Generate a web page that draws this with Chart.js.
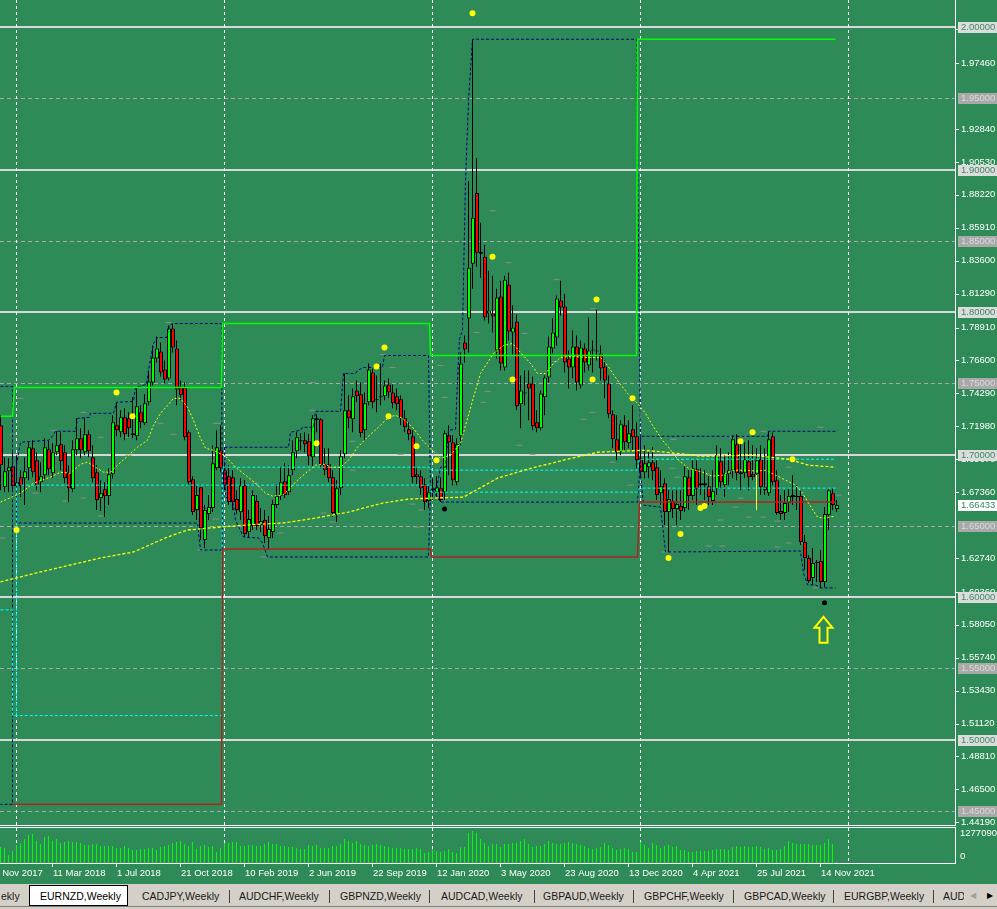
<!DOCTYPE html>
<html lang="en">
<head>
    <meta charset="UTF-8">
    <title>EURNZD,Weekly</title>
    <style>
        body {
            margin: 0;
            background-color: #2E8B57;
            font-family: 'Liberation Sans', Arial, sans-serif;
        }
        .wrap {
            position: relative;
            width: 997px;
            height: 909px;
            overflow: hidden;
            background-color: #2E8B57;
        }
        .wrap canvas {
            position: absolute;
            left: 0;
        }
        .tabs {
            position: absolute;
            left: 0;
            top: 884px;
            width: 997px;
            height: 25px;
            background-color: #d4d0c8;
            font-size: 10.5px;
            color: #1a1a1a;
            overflow: hidden;
        }
        .tabs span {
            position: absolute;
            top: 6px;
            white-space: nowrap;
        }
        .tabs .sep {
            position: absolute;
            top: 6px;
            width: 1px;
            height: 13px;
            background-color: #404040;
        }
        .tabs .active {
            position: absolute;
            left: 29px;
            top: 1px;
            width: 97px;
            height: 19px;
            background-color: #fff;
            border: 1px solid #000;
        }
        .tabs .bottom {
            position: absolute;
            left: 0;
            top: 22px;
            width: 997px;
            height: 1px;
            background-color: #808080;
        }
    </style>
    <script src="https://cdn.jsdelivr.net/npm/chart.js"></script>
</head>
<body>
<div class="wrap">
    <canvas id="mainChart" width="997" height="826" style="top:0"></canvas>
    <canvas id="volChart" width="997" height="58" style="top:826px"></canvas>
    <div class="tabs">
        <div class="active"></div>
        <span style="left:1px">ekly</span>
        <span style="left:40px;color:#000">EURNZD,Weekly</span>
        <span style="left:142px">CADJPY,Weekly</span>
        <div class="sep" style="left:229px"></div>
        <span style="left:239px">AUDCHF,Weekly</span>
        <div class="sep" style="left:329px"></div>
        <span style="left:340px">GBPNZD,Weekly</span>
        <div class="sep" style="left:429px"></div>
        <span style="left:441px">AUDCAD,Weekly</span>
        <div class="sep" style="left:534px"></div>
        <span style="left:543px">GBPAUD,Weekly</span>
        <div class="sep" style="left:633px"></div>
        <span style="left:644px">GBPCHF,Weekly</span>
        <div class="sep" style="left:733px"></div>
        <span style="left:744px">GBPCAD,Weekly</span>
        <div class="sep" style="left:833px"></div>
        <span style="left:844px">EURGBP,Weekly</span>
        <div class="sep" style="left:933px"></div>
        <span style="left:943px;width:21px;overflow:hidden">AUDCAD</span>
        <span style="left:970px;color:#a0a0a0;font-size:8px;top:7px">&#9664;</span>
        <span style="left:987px;color:#000;font-size:8px;top:7px">&#9654;</span>
        <div class="bottom"></div>
    </div>
</div>

<script>
    // weekly candles, Dec 2017 .. Dec 2021
    const open = [
        1.7205, 1.6771, 1.6883, 1.6918, 1.6778, 1.6841, 1.6834, 1.6904, 1.7044, 1.6960,
        1.6806, 1.6855, 1.7037, 1.6869, 1.7016, 1.7072, 1.7016, 1.6876, 1.6757, 1.7030,
        1.7114, 1.7016, 1.7142, 1.6981, 1.6876, 1.6694, 1.6757, 1.6708, 1.6862, 1.7205,
        1.7156, 1.7261, 1.7254, 1.7135, 1.7128, 1.7296, 1.7219, 1.7366, 1.7506, 1.7674,
        1.7723, 1.7597, 1.7534, 1.7884, 1.7744, 1.7471, 1.7471, 1.7156, 1.6827, 1.6610,
        1.6771, 1.6400, 1.6582, 1.6624, 1.6904, 1.7030, 1.6890, 1.6848, 1.6841, 1.6687,
        1.6596, 1.6785, 1.6456, 1.6498, 1.6673, 1.6505, 1.6540, 1.6414, 1.6456, 1.6645,
        1.6708, 1.6813, 1.6736, 1.6890, 1.7023, 1.7093, 1.7100, 1.7093, 1.6981, 1.7254,
        1.7247, 1.6932, 1.6932, 1.6841, 1.6575, 1.6764, 1.7002, 1.7310, 1.7247, 1.7450,
        1.7422, 1.7170, 1.7366, 1.7576, 1.7380, 1.7401, 1.7408, 1.7492, 1.7436, 1.7408,
        1.7387, 1.7254, 1.7177, 1.7128, 1.6862, 1.6848, 1.6792, 1.6673, 1.6750, 1.6736,
        1.6764, 1.6736, 1.7135, 1.7086, 1.6806, 1.7128, 1.7786, 1.7954, 1.8339, 1.8836,
        1.8409, 1.8388, 1.7989, 1.7989, 1.7730, 1.8108, 1.7611, 1.8192, 1.7856, 1.7933,
        1.7352, 1.7429, 1.7499, 1.7499, 1.7226, 1.7184, 1.7401, 1.7541, 1.7744, 1.7821,
        1.8080, 1.8038, 1.7674, 1.7611, 1.7758, 1.7485, 1.7744, 1.7625, 1.7730, 1.7730,
        1.7709, 1.7618, 1.7499, 1.7282, 1.7107, 1.7016, 1.7205, 1.7079, 1.7177, 1.7128,
        1.6974, 1.6876, 1.6911, 1.6946, 1.6911, 1.6729, 1.6799, 1.6596, 1.6673, 1.6617,
        1.6638, 1.6624, 1.6841, 1.6708, 1.6897, 1.6799, 1.6785, 1.6778, 1.6673, 1.6757,
        1.6953, 1.6785, 1.6862, 1.6890, 1.7072, 1.6876, 1.6869, 1.6953, 1.6862, 1.6862,
        1.6967, 1.6771, 1.6729, 1.7128, 1.6820, 1.6603, 1.6589, 1.6659, 1.6715, 1.6701,
        1.6708, 1.6386, 1.6274, 1.6134, 1.6239, 1.6253, 1.6106, 1.6575, 1.6729, 1.6617
    ];
    const high = [
        1.7275, 1.6981, 1.6974, 1.7016, 1.6995, 1.6890, 1.6981, 1.7086, 1.7100, 1.7016,
        1.6946, 1.7114, 1.7100, 1.7079, 1.7163, 1.7156, 1.7065, 1.6925, 1.7100, 1.7254,
        1.7184, 1.7254, 1.7170, 1.7065, 1.6925, 1.6820, 1.6806, 1.6904, 1.7275, 1.7366,
        1.7310, 1.7324, 1.7296, 1.7401, 1.7471, 1.7345, 1.7422, 1.7590, 1.7765, 1.7828,
        1.7786, 1.7660, 1.7905, 1.7919, 1.7800, 1.7520, 1.7506, 1.7170, 1.6848, 1.6785,
        1.6771, 1.6645, 1.6715, 1.7065, 1.7170, 1.7205, 1.6946, 1.6925, 1.6890, 1.6750,
        1.6834, 1.6820, 1.6610, 1.6750, 1.6715, 1.6624, 1.6610, 1.6568, 1.6680, 1.6792,
        1.6911, 1.6939, 1.6925, 1.7100, 1.7156, 1.7149, 1.7156, 1.7142, 1.7275, 1.7282,
        1.7254, 1.7044, 1.7044, 1.6890, 1.6820, 1.7030, 1.7569, 1.7415, 1.7464, 1.7520,
        1.7506, 1.7436, 1.7639, 1.7604, 1.7555, 1.7639, 1.7520, 1.7534, 1.7492, 1.7464,
        1.7415, 1.7310, 1.7226, 1.7170, 1.6904, 1.6890, 1.6834, 1.6785, 1.6834, 1.6848,
        1.6841, 1.7170, 1.7205, 1.7135, 1.7114, 1.7716, 1.7835, 1.8920, 1.9914, 1.9081,
        1.8626, 1.8472, 1.8290, 1.8255, 1.8164, 1.8220, 1.8255, 1.8276, 1.8045, 1.7982,
        1.7555, 1.7590, 1.7590, 1.7548, 1.7310, 1.7450, 1.7555, 1.7828, 1.7954, 1.8115,
        1.8220, 1.8129, 1.7730, 1.7870, 1.7835, 1.7800, 1.7779, 1.7961, 1.7800, 1.8017,
        1.7765, 1.7660, 1.7555, 1.7310, 1.7275, 1.7240, 1.7275, 1.7240, 1.7345, 1.7226,
        1.7100, 1.7065, 1.7016, 1.7051, 1.6960, 1.6890, 1.6834, 1.6750, 1.6750, 1.6750,
        1.6750, 1.6918, 1.6890, 1.6960, 1.6960, 1.6904, 1.6890, 1.6848, 1.6890, 1.7065,
        1.7044, 1.6995, 1.7016, 1.7135, 1.7142, 1.7100, 1.7086, 1.7100, 1.7065, 1.7044,
        1.7065, 1.7044, 1.7163, 1.7156, 1.6890, 1.6715, 1.6750, 1.6764, 1.6855, 1.6785,
        1.6750, 1.6435, 1.6295, 1.6344, 1.6260, 1.6330, 1.6631, 1.6764, 1.6764, 1.6680
    ];
    const low = [
        1.6750, 1.6736, 1.6736, 1.6750, 1.6750, 1.6701, 1.6645, 1.6820, 1.6841, 1.6750,
        1.6736, 1.6820, 1.6855, 1.6834, 1.6995, 1.6890, 1.6799, 1.6666, 1.6736, 1.6995,
        1.6974, 1.6995, 1.6981, 1.6806, 1.6610, 1.6603, 1.6561, 1.6645, 1.6834, 1.7128,
        1.7121, 1.7100, 1.7121, 1.7114, 1.7100, 1.7184, 1.7205, 1.7345, 1.7485, 1.7646,
        1.7548, 1.7499, 1.7520, 1.7716, 1.7345, 1.7380, 1.7100, 1.6785, 1.6575, 1.6540,
        1.6400, 1.6344, 1.6540, 1.6596, 1.6890, 1.6876, 1.6750, 1.6645, 1.6610, 1.6582,
        1.6540, 1.6421, 1.6414, 1.6470, 1.6470, 1.6456, 1.6379, 1.6330, 1.6414, 1.6624,
        1.6680, 1.6694, 1.6715, 1.6855, 1.6974, 1.7030, 1.7016, 1.6925, 1.6918, 1.7156,
        1.6911, 1.6855, 1.6806, 1.6561, 1.6526, 1.6715, 1.6974, 1.7184, 1.7156, 1.7366,
        1.7121, 1.7100, 1.7345, 1.7324, 1.7296, 1.7345, 1.7380, 1.7394, 1.7324, 1.7310,
        1.7205, 1.7156, 1.7100, 1.6799, 1.6792, 1.6715, 1.6610, 1.6624, 1.6680, 1.6701,
        1.6666, 1.6680, 1.6855, 1.6785, 1.6785, 1.7065, 1.7646, 1.7716, 1.8164, 1.8318,
        1.8241, 1.7940, 1.7919, 1.7856, 1.7674, 1.7590, 1.7590, 1.7800, 1.7695, 1.7310,
        1.7184, 1.7345, 1.7240, 1.7170, 1.7156, 1.7170, 1.7275, 1.7506, 1.7709, 1.7765,
        1.7975, 1.7576, 1.7464, 1.7534, 1.7450, 1.7464, 1.7576, 1.7590, 1.7576, 1.7660,
        1.7520, 1.7394, 1.7254, 1.7044, 1.6960, 1.6995, 1.7030, 1.7044, 1.7030, 1.6904,
        1.6834, 1.6834, 1.6834, 1.6820, 1.6680, 1.6645, 1.6505, 1.6316, 1.6554, 1.6505,
        1.6540, 1.6596, 1.6610, 1.6680, 1.6645, 1.6715, 1.6680, 1.6645, 1.6645, 1.6715,
        1.6764, 1.6701, 1.6785, 1.6834, 1.6820, 1.6750, 1.6834, 1.6750, 1.6820, 1.6820,
        1.6715, 1.6715, 1.6708, 1.6785, 1.6575, 1.6540, 1.6540, 1.6596, 1.6645, 1.6610,
        1.6365, 1.6190, 1.6099, 1.6085, 1.6106, 1.6064, 1.6071, 1.6470, 1.6610, 1.6596
    ];
    const close = [
        1.6925, 1.6883, 1.6911, 1.6778, 1.6806, 1.6778, 1.6883, 1.7051, 1.6876, 1.6785,
        1.6848, 1.7051, 1.6897, 1.7016, 1.7065, 1.6953, 1.6834, 1.6764, 1.7037, 1.7114,
        1.7030, 1.7142, 1.7023, 1.6834, 1.6680, 1.6729, 1.6708, 1.6862, 1.7226, 1.7170,
        1.7261, 1.7142, 1.7184, 1.7149, 1.7338, 1.7226, 1.7359, 1.7513, 1.7681, 1.7744,
        1.7576, 1.7527, 1.7884, 1.7751, 1.7457, 1.7415, 1.7121, 1.6806, 1.6596, 1.6715,
        1.6484, 1.6610, 1.6631, 1.6939, 1.7051, 1.6904, 1.6778, 1.6666, 1.6666, 1.6610,
        1.6785, 1.6442, 1.6547, 1.6715, 1.6498, 1.6533, 1.6428, 1.6477, 1.6652, 1.6708,
        1.6806, 1.6715, 1.6855, 1.7016, 1.7121, 1.7100, 1.7072, 1.6988, 1.7254, 1.7240,
        1.6925, 1.6890, 1.6834, 1.6589, 1.6764, 1.6988, 1.7310, 1.7254, 1.7408, 1.7408,
        1.7149, 1.7359, 1.7597, 1.7366, 1.7387, 1.7408, 1.7485, 1.7436, 1.7359, 1.7352,
        1.7254, 1.7191, 1.7142, 1.6841, 1.6841, 1.6764, 1.6666, 1.6736, 1.6764, 1.6771,
        1.6680, 1.7149, 1.7086, 1.6820, 1.7072, 1.7639, 1.7737, 1.8311, 1.8661, 1.8416,
        1.8423, 1.7961, 1.8010, 1.7968, 1.8101, 1.7639, 1.8227, 1.7863, 1.7891, 1.7338,
        1.7450, 1.7436, 1.7464, 1.7198, 1.7184, 1.7429, 1.7541, 1.7758, 1.7856, 1.8094,
        1.8031, 1.7646, 1.7611, 1.7758, 1.7506, 1.7751, 1.7646, 1.7730, 1.7737, 1.7723,
        1.7604, 1.7520, 1.7282, 1.7107, 1.7016, 1.7212, 1.7086, 1.7149, 1.7121, 1.6960,
        1.6876, 1.6939, 1.6946, 1.6883, 1.6715, 1.6778, 1.6596, 1.6687, 1.6617, 1.6652,
        1.6603, 1.6848, 1.6708, 1.6904, 1.6757, 1.6785, 1.6799, 1.6701, 1.6743, 1.6995,
        1.6806, 1.6869, 1.6890, 1.7107, 1.6869, 1.6862, 1.6967, 1.6841, 1.6841, 1.6960,
        1.6771, 1.6750, 1.7107, 1.6806, 1.6589, 1.6582, 1.6659, 1.6708, 1.6701, 1.6708,
        1.6386, 1.6274, 1.6113, 1.6239, 1.6246, 1.6106, 1.6582, 1.6750, 1.6645, 1.6645
    ];
    const volume = [
        640000, 600000, 320000, 480000, 720000, 800000, 960000, 1120000, 1160000, 880000,
        760000, 1040000, 1080000, 880000, 960000, 800000, 840000, 880000, 840000, 840000,
        800000, 720000, 720000, 760000, 760000, 680000, 680000, 680000, 680000, 600000,
        600000, 680000, 600000, 520000, 520000, 560000, 560000, 600000, 600000, 520000,
        640000, 680000, 720000, 800000, 840000, 880000, 760000, 680000, 840000, 560000,
        680000, 720000, 640000, 680000, 440000, 600000, 800000, 800000, 840000, 840000,
        680000, 680000, 720000, 720000, 680000, 680000, 760000, 840000, 760000, 760000,
        680000, 680000, 640000, 640000, 600000, 560000, 560000, 720000, 680000, 720000,
        600000, 600000, 600000, 680000, 680000, 760000, 960000, 880000, 800000, 880000,
        760000, 720000, 680000, 720000, 760000, 720000, 680000, 640000, 600000, 600000,
        600000, 560000, 560000, 560000, 600000, 560000, 400000, 440000, 560000, 480000,
        440000, 480000, 560000, 440000, 400000, 640000, 640000, 1200000, 1277090, 1200000,
        960000, 800000, 680000, 760000, 760000, 640000, 760000, 760000, 800000, 800000,
        880000, 960000, 760000, 640000, 680000, 680000, 760000, 880000, 800000, 760000,
        760000, 800000, 840000, 800000, 760000, 720000, 680000, 600000, 560000, 600000,
        640000, 800000, 720000, 600000, 520000, 560000, 600000, 560000, 440000, 440000,
        840000, 720000, 600000, 800000, 720000, 600000, 680000, 720000, 640000, 680000,
        520000, 520000, 440000, 440000, 480000, 480000, 480000, 480000, 520000, 560000,
        560000, 560000, 520000, 640000, 680000, 640000, 680000, 640000, 640000, 680000,
        640000, 560000, 600000, 520000, 520000, 560000, 680000, 880000, 800000, 760000,
        760000, 760000, 760000, 720000, 720000, 720000, 800000, 960000, 760000, 40000
    ];
    const lastPrice = 1.66433;
    const volumeTop = 1277090;

    // indicator lines: [week index, price]
    const fastMA = [
        [0, 1.6666], [5, 1.6729], [8.25, 1.6799], [12.5, 1.6841], [15, 1.6876], [17.5, 1.6869],
        [20, 1.6932], [21.75, 1.6946], [23.75, 1.6911], [25.75, 1.6876], [27.5, 1.6876], [29.25, 1.6925],
        [31.75, 1.6988], [34.25, 1.7051], [36.75, 1.7100], [38.25, 1.7205], [40, 1.7289], [41.75, 1.7345],
        [43.25, 1.7394], [45, 1.7394], [46.75, 1.7331], [48.25, 1.7240], [50, 1.7114], [51.25, 1.7044],
        [53.25, 1.7030], [56.25, 1.6988], [58.75, 1.6911], [61.25, 1.6855], [63.75, 1.6799], [66.25, 1.6729],
        [68, 1.6708], [70.5, 1.6715], [72, 1.6750], [73.75, 1.6806], [76.25, 1.6869], [78.75, 1.6925],
        [81.25, 1.6932], [82.5, 1.6911], [85, 1.6911], [87, 1.6960], [89.25, 1.7051], [92, 1.7128],
        [94.5, 1.7191], [97, 1.7261], [98.75, 1.7275], [100.5, 1.7254], [103, 1.7191], [105.5, 1.7100],
        [108, 1.7030], [110, 1.6974], [112.5, 1.6995], [115, 1.7079], [118.25, 1.7401], [120, 1.7569],
        [123.25, 1.7709], [125.75, 1.7765], [128, 1.7779], [130, 1.7716], [132.5, 1.7639], [134.25, 1.7569],
        [136.25, 1.7569], [138.25, 1.7639], [140, 1.7681], [142.5, 1.7688], [146.75, 1.7681], [150, 1.7681],
        [151.75, 1.7625], [154.25, 1.7520], [156.75, 1.7429], [159.25, 1.7359], [161.25, 1.7289], [163, 1.7205],
        [165.5, 1.7100], [167, 1.7051], [169.5, 1.6960], [172, 1.6904], [175.5, 1.6876], [178, 1.6848],
        [180.5, 1.6855], [183, 1.6890], [186.25, 1.6890], [188.75, 1.6883], [191.25, 1.6890], [193.75, 1.6855],
        [196.25, 1.6820], [198.75, 1.6785], [200.5, 1.6729], [202, 1.6659], [204.25, 1.6561], [205.75, 1.6554],
        [208.75, 1.6568]
    ];
    const slowMA = [
        [0, 1.6106], [10, 1.6176], [13.25, 1.6197], [25, 1.6274], [33.25, 1.6316], [41.75, 1.6421],
        [46.75, 1.6470], [55, 1.6491], [61.25, 1.6505], [70.5, 1.6519], [78.75, 1.6554], [87, 1.6596],
        [95.5, 1.6659], [102, 1.6687], [108, 1.6694], [115.75, 1.6701], [124.25, 1.6834], [131.75, 1.6897],
        [140.75, 1.6960], [149.25, 1.7016], [160.75, 1.7030], [166.25, 1.7016], [171.25, 1.7002], [175, 1.6988],
        [187.5, 1.6995], [197, 1.6967], [202, 1.6925], [208.75, 1.6911]
    ];
    const yellowMark = [[189, 1.6855], [189, 1.6610]];
    const prevHigh = [
        [0, 1.7268], [3, 1.7268], [3.5, 1.7471], [55.25, 1.7471], [55.5, 1.7919], [107.25, 1.7919],
        [107.5, 1.7695], [159, 1.7695], [159.25, 1.9914], [208.75, 1.9914]
    ];
    const prevLow = [
        [3, 1.4545], [55.25, 1.4545], [55.5, 1.6337], [107.5, 1.6337], [107.75, 1.6281], [159.25, 1.6281],
        [159.75, 1.6666], [208.75, 1.6666]
    ];
    const pivotA = [
        [0, 1.5910], [3, 1.5910], [3, 1.5168], [55.25, 1.5168], [55.5, 1.6911], [107.5, 1.6911],
        [107.75, 1.6890], [159.25, 1.6890], [159.75, 1.6967], [208.75, 1.6967]
    ];
    const pivotB = [
        [4, 1.5168], [4, 1.6785], [107.5, 1.6785], [107.75, 1.6736], [159.25, 1.6736], [159.75, 1.6764],
        [208.75, 1.6764]
    ];
    const rangeLines = [
        [[0, 1.7478], [3, 1.7478], [3, 1.4545], [0, 1.4545]],
        [[4, 1.6925], [4, 1.6519], [49.25, 1.6519], [50, 1.6330], [55.5, 1.6330]],
        [[4, 1.6925], [5, 1.7086], [12, 1.7100], [13, 1.7128], [13.75, 1.7163], [18.75, 1.7163],
         [19.25, 1.7254], [22.25, 1.7261], [22.5, 1.7289], [28.25, 1.7289], [29, 1.7366], [33.25, 1.7373],
         [33.75, 1.7471], [36.5, 1.7492], [37, 1.7590], [38.25, 1.7779], [39.25, 1.7821], [41.5, 1.7821],
         [42.25, 1.7905], [43, 1.7919], [55.25, 1.7919], [55.5, 1.6330]],
        [[56, 1.7051], [72, 1.7051], [72.5, 1.7156], [75, 1.7170], [75.5, 1.7191], [78.25, 1.7191],
         [78.75, 1.7303], [85, 1.7303], [85.75, 1.7569], [88.75, 1.7569], [89.25, 1.7590], [90.75, 1.7611],
         [95.5, 1.7611], [96, 1.7695], [107, 1.7695], [107.5, 1.6750]],
        [[56, 1.7051], [56.25, 1.6701], [58, 1.6680], [58.75, 1.6540], [60.75, 1.6421], [64.5, 1.6414],
         [65.5, 1.6379], [66.75, 1.6281], [107, 1.6281], [107.5, 1.6750]],
        [[108, 1.6750], [109, 1.6757], [110, 1.6911], [111.25, 1.6911], [112, 1.7170], [113.75, 1.7177],
         [114.25, 1.7520], [114.75, 1.7814], [115.5, 1.7870], [116.25, 1.8920], [117, 1.9480], [118, 1.9914],
         [159, 1.9914], [160, 1.7030]],
        [[108, 1.6750], [110, 1.6666], [159.25, 1.6666], [160, 1.6960]],
        [[160, 1.7030], [160, 1.7128], [191.75, 1.7128], [192, 1.7163], [208.75, 1.7163]],
        [[160, 1.6960], [160, 1.6869], [160.75, 1.6645], [165, 1.6631], [166.25, 1.6316], [200, 1.6323],
         [200.75, 1.6169], [201.75, 1.6085], [203.75, 1.6085], [205, 1.6064], [208.75, 1.6064]]
    ];
    const yellowDots = [
        [118, 2.0096], [123, 1.8388], [149, 1.8087], [128, 1.7527], [148, 1.7527], [158, 1.7394],
        [96, 1.7751], [94, 1.7618], [79, 1.7079], [97, 1.7268], [104, 1.7058], [109, 1.6960],
        [29, 1.7436], [33, 1.7268], [4, 1.6470], [188, 1.7156], [185, 1.7093], [198, 1.6967],
        [175, 1.6624], [176, 1.6638], [170, 1.6442], [167, 1.6274]
    ];
    const blackDots = [[111, 1.6617], [206, 1.5959]];
    const grayMarks = [
        [5, 1.7394], [3, 1.7142], [13.25, 1.7170], [20.75, 1.7296], [25, 1.7121], [8.75, 1.6729],
        [16.25, 1.6673], [20.75, 1.6694], [25, 1.6568], [32, 1.6995], [31.75, 1.7121], [42, 1.7926],
        [43.25, 1.7142], [40, 1.7219], [53.75, 1.7219], [53.75, 1.6547], [50, 1.6330], [0.5, 1.6414],
        [78, 1.7506], [78, 1.7310], [88, 1.7093], [88, 1.6890], [95.5, 1.7702], [98, 1.7611],
        [100, 1.7002], [103, 1.6652], [105, 1.6610], [104.25, 1.6491], [80.75, 1.6589], [83, 1.6526],
        [63.75, 1.6799], [70, 1.6449], [65.75, 1.6281], [54.5, 1.7219], [123, 1.8710], [127, 1.8346],
        [119, 1.7856], [111, 1.7401], [110, 1.7625], [121.75, 1.7443], [120.75, 1.7366], [131, 1.7849],
        [129.75, 1.7065], [133, 1.7002], [139, 1.8227], [148.25, 1.8024], [138.75, 1.7653], [145.75, 1.7247],
        [148, 1.7296], [153, 1.6946], [157.5, 1.6785], [190.75, 1.7163], [205, 1.7191], [182, 1.7128],
        [185.75, 1.7128], [168.25, 1.7107], [168, 1.6904], [169.25, 1.6841], [197, 1.6911], [209.5, 1.6715],
        [183.75, 1.6631], [187, 1.6561], [190.75, 1.6561], [194.25, 1.6533], [180, 1.6540], [177, 1.6358],
        [180.5, 1.6358], [194.25, 1.6351], [197, 1.6379], [200.75, 1.6379], [185, 1.6694], [203.75, 1.6064],
        [166, 1.6316], [168.25, 1.6316]
    ];
    const arrowMark = { x: 205.75, top: 1.5861, bottom: 1.5679 };

    // axis text
    const yTickLabels = ['1.99840', '1.97460', '1.92840', '1.90530', '1.88220', '1.85910', '1.83600', '1.81290',
        '1.78910', '1.76600', '1.74290', '1.71980', '1.69670', '1.67360', '1.62740', '1.60360', '1.58050',
        '1.55740', '1.53430', '1.51120', '1.48810', '1.46500', '1.44190'];
    const solidLevels = [2.0, 1.9, 1.8, 1.7, 1.6, 1.5];
    const dashedLevels = [1.95, 1.85, 1.75, 1.65, 1.55, 1.45];
    const separators = [4, 56, 108, 160, 212];
    const dateLabels = ['19 Nov 2017', '11 Mar 2018', '1 Jul 2018', '21 Oct 2018', '10 Feb 2019', '2 Jun 2019',
        '22 Sep 2019', '12 Jan 2020', '3 May 2020', '23 Aug 2020', '13 Dec 2020', '4 Apr 2021', '25 Jul 2021',
        '14 Nov 2021'];
    const dateIdx = [-3, 13, 29, 45, 61, 77, 93, 109, 125, 141, 157, 173, 189, 205];

    const GREEN_BG = '#2E8B57';
    const AXIS_FONT = '9.5px "Liberation Sans", Arial, sans-serif';
    const X_MIN = -0.125, X_MAX = 238.625;
    const BODY_SHIFT = 0.125; // 4px bodies sit one pixel right of the wick centre

    const pts = arr => arr.map(p => ({ x: p[0], y: p[1] }));

    function lineSet(points, color, width, dash, order) {
        return {
            type: 'line', data: pts(points), borderColor: color, borderWidth: width,
            borderDash: dash, pointRadius: 0, fill: false, tension: 0, order: order
        };
    }

    // grid, axis labels and price boxes
    const mainDecor = {
        id: 'mainDecor',
        beforeDatasetsDraw(chart) {
            const { ctx, chartArea: a, scales: { x, y } } = chart;
            ctx.save();
            ctx.fillStyle = '#d8d8d8';
            solidLevels.forEach(v => {
                const py = Math.round(y.getPixelForValue(v));
                ctx.fillRect(a.left, py - 1, a.right - a.left, 2);
            });
            ctx.strokeStyle = '#a9a9a9';
            ctx.lineWidth = 1;
            ctx.setLineDash([4, 3]);
            dashedLevels.forEach(v => {
                const py = Math.round(y.getPixelForValue(v)) + 0.5;
                ctx.beginPath();
                ctx.moveTo(a.left, py);
                ctx.lineTo(a.right, py);
                ctx.stroke();
            });
            ctx.strokeStyle = '#ffffff';
            ctx.setLineDash([3, 3]);
            separators.forEach(i => {
                const px = Math.floor(x.getPixelForValue(i)) + 0.5;
                ctx.beginPath();
                ctx.moveTo(px, a.top);
                ctx.lineTo(px, a.bottom);
                ctx.stroke();
            });
            ctx.restore();
        },
        afterDraw(chart) {
            const { ctx, chartArea: a, scales: { x, y } } = chart;
            ctx.save();
            // arrow
            const ax = x.getPixelForValue(arrowMark.x);
            const at = y.getPixelForValue(arrowMark.top);
            const ab = y.getPixelForValue(arrowMark.bottom);
            ctx.strokeStyle = '#FFFF00';
            ctx.lineWidth = 2;
            ctx.beginPath();
            ctx.moveTo(ax, at);
            ctx.lineTo(ax + 9, at + 11);
            ctx.lineTo(ax + 4, at + 11);
            ctx.lineTo(ax + 4, ab);
            ctx.lineTo(ax - 4, ab);
            ctx.lineTo(ax - 4, at + 11);
            ctx.lineTo(ax - 9, at + 11);
            ctx.closePath();
            ctx.stroke();

            // frame
            ctx.fillStyle = '#ffffff';
            ctx.fillRect(a.right, 0, 1, a.bottom + 1);
            ctx.fillRect(0, a.bottom, a.right + 1, 1);

            ctx.font = AXIS_FONT;
            ctx.textBaseline = 'middle';
            ctx.textAlign = 'left';
            yTickLabels.forEach(t => {
                const py = y.getPixelForValue(parseFloat(t));
                ctx.fillStyle = '#ffffff';
                ctx.fillRect(a.right + 1, Math.round(py), 3, 1);
                ctx.fillText(t, a.right + 6, py);
            });
            const box = (v, bg, fg) => {
                const py = y.getPixelForValue(v);
                ctx.fillStyle = bg;
                ctx.fillRect(a.right + 3, Math.round(py) - 5, 42, 11);
                ctx.fillStyle = fg;
                ctx.fillText(v.toFixed(5), a.right + 6, py + 0.5);
            };
            dashedLevels.forEach(v => box(v, '#a9a9a9', '#d9d9d9'));
            solidLevels.forEach(v => box(v, '#dcdcdc', '#3d8a62'));
            box(lastPrice, '#ffffff', GREEN_BG);
            ctx.restore();
        }
    };

    const volDecor = {
        id: 'volDecor',
        beforeDatasetsDraw(chart) {
            const { ctx, chartArea: a, scales: { x } } = chart;
            ctx.save();
            ctx.strokeStyle = '#ffffff';
            ctx.lineWidth = 1;
            ctx.setLineDash([3, 3]);
            separators.forEach(i => {
                const px = Math.floor(x.getPixelForValue(i)) + 0.5;
                ctx.beginPath();
                ctx.moveTo(px, a.top);
                ctx.lineTo(px, a.bottom);
                ctx.stroke();
            });
            ctx.restore();
        },
        afterDraw(chart) {
            const { ctx, chartArea: a, scales: { x } } = chart;
            ctx.save();
            ctx.fillStyle = '#ffffff';
            ctx.fillRect(0, a.top - 1, a.right + 1, 1);
            ctx.fillRect(0, a.bottom, a.right + 1, 1);
            ctx.fillRect(a.right, a.top - 1, 1, a.bottom - a.top + 2);
            ctx.font = AXIS_FONT;
            ctx.textBaseline = 'middle';
            ctx.textAlign = 'left';
            ctx.fillText(String(volumeTop), a.right + 5, a.top + 5);
            ctx.fillText('0', a.right + 5, a.bottom - 7);
            dateIdx.forEach((d, k) => {
                const px = Math.floor(x.getPixelForValue(d));
                ctx.fillRect(px, a.bottom, 1, 4);
                ctx.fillText(dateLabels[k], px + 1, a.bottom + 10);
            });
            ctx.restore();
        }
    };

    const bodies = open.map((o, i) => ({ x: i + BODY_SHIFT, y: [o, close[i]] }));
    const bodyColors = open.map((o, i) => close[i] >= o ? '#00FF00' : '#FF0000');
    const wicks = high.map((h, i) => ({ x: i, y: [low[i], h] }));

    const datasets = [
        { type: 'scatter', data: pts(blackDots), pointRadius: 2.5, backgroundColor: '#000', borderWidth: 0, order: 0 },
        { type: 'scatter', data: pts(yellowDots), pointRadius: 3, backgroundColor: '#FFFF00', borderWidth: 0, order: 0 },
        lineSet(fastMA, '#FFFF00', 1, [2, 2], 1),
        lineSet(slowMA, '#FFFF00', 1.3, [3, 2], 1),
        lineSet(yellowMark, '#FFFF40', 1, [], 1),
        lineSet(prevHigh, '#00FF00', 1.5, [], 2),
        lineSet(prevLow, '#B22222', 1.5, [], 2),
        lineSet(pivotA, '#00FFFF', 1, [3, 2], 2),
        lineSet(pivotB, '#00FFFF', 1, [3, 2], 2)
    ];
    rangeLines.forEach(r => datasets.push(lineSet(r, '#000080', 1, [3, 2], 2)));
    datasets.push(
        { type: 'bar', data: bodies, backgroundColor: bodyColors, borderColor: '#000000', borderWidth: 1,
          borderSkipped: false, barThickness: 4, grouped: false, inflateAmount: 0, order: 3 },
        { type: 'bar', data: wicks, backgroundColor: '#000000', borderWidth: 0,
          barThickness: 1, grouped: false, inflateAmount: 0, order: 4 },
        { type: 'scatter', data: pts(grayMarks), pointStyle: 'line', pointRadius: 3,
          borderColor: '#8c8c8c', borderWidth: 1, order: 5 }
    );

    new Chart(document.getElementById('mainChart').getContext('2d'), {
        type: 'bar',
        data: { datasets: datasets },
        options: {
            responsive: false,
            animation: false,
            events: [],
            devicePixelRatio: 1,
            layout: { autoPadding: false, padding: { left: 0, right: 42, top: 0, bottom: 1 } },
            scales: {
                x: { type: 'linear', min: X_MIN, max: X_MAX, offset: false, display: false },
                y: { type: 'linear', min: 1.44001, max: 2.01895, display: false }
            },
            plugins: { legend: { display: false }, tooltip: { enabled: false } }
        },
        plugins: [mainDecor]
    });

    new Chart(document.getElementById('volChart').getContext('2d'), {
        type: 'bar',
        data: {
            datasets: [{
                data: volume.map((v, i) => ({ x: i, y: v })),
                backgroundColor: '#00FF00', borderWidth: 0, barThickness: 1, inflateAmount: 0
            }]
        },
        options: {
            responsive: false,
            animation: false,
            events: [],
            devicePixelRatio: 1,
            layout: { autoPadding: false, padding: { left: 0, right: 42, top: 2, bottom: 21 } },
            scales: {
                x: { type: 'linear', min: X_MIN, max: X_MAX, offset: false, display: false },
                y: { type: 'linear', min: 0, max: 1396817, display: false }
            },
            plugins: { legend: { display: false }, tooltip: { enabled: false } }
        },
        plugins: [volDecor]
    });
</script>
</body>
</html>
